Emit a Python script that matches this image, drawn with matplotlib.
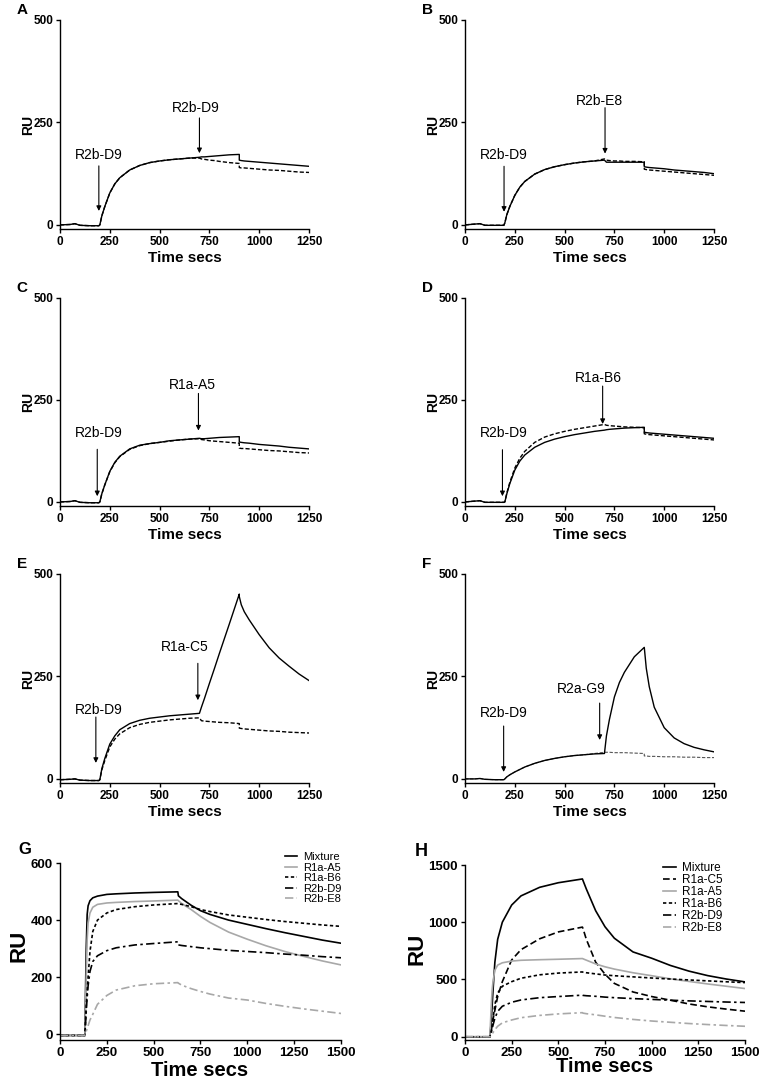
import matplotlib
matplotlib.use('Agg')
import matplotlib.pyplot as plt

plt.rcParams['font.family'] = ['Liberation Sans', 'DejaVu Sans']

W, H = 762, 1083

# time grid (s) shared by panels A-F (900 twice = buffer step)
t_af = [0, 50, 75, 100, 150, 195, 200, 210, 225, 250, 275, 300, 350, 400, 450, 500, 550, 600, 650,
        700, 710, 725, 750, 775, 800, 850, 900, 900, 910, 925, 950, 1000, 1050, 1100, 1150, 1200, 1250]

a_solid = [0, 1, 3, -1, -2, -2, 0, 22, 45, 78, 100, 115, 134, 145, 152, 156, 159, 161, 163,
           165, 166, 166, 167, 168, 169, 171, 172, 158, 157, 156, 155, 153, 151, 149, 147, 145, 143]
a_dash = [0, 1, 3, -1, -2, -2, 0, 22, 45, 78, 100, 115, 134, 145, 152, 156, 159, 161, 163,
          163, 161, 160, 158, 157, 155, 152, 150, 140, 139, 139, 138, 136, 134, 133, 131, 129, 128]

b_solid = [0, 2, 3, -1, -1, -1, 5, 25, 45, 72, 92, 106, 124, 135, 142, 147, 151, 154, 156,
           158, 153, 153, 153, 153, 153, 153, 153, 142, 141, 140, 139, 137, 134, 132, 130, 128, 125]
b_dash = [0, 2, 3, -1, -1, -1, 5, 25, 45, 72, 92, 106, 124, 135, 142, 147, 151, 154, 156,
          161, 158, 157, 156, 156, 155, 155, 154, 136, 135, 134, 133, 131, 129, 127, 125, 123, 121]

c_solid = [0, 1, 3, -1, -2, -2, 0, 20, 42, 75, 97, 112, 130, 139, 143, 146, 150, 152, 154,
           156, 155, 155, 156, 157, 158, 159, 160, 147, 146, 145, 144, 141, 139, 137, 134, 132, 130]
c_dash = [0, 1, 3, -1, -2, -2, 0, 20, 42, 74, 96, 111, 129, 138, 143, 146, 149, 152, 154,
          155, 153, 152, 150, 149, 148, 146, 144, 132, 131, 131, 130, 128, 126, 125, 123, 121, 120]

d_solid = [0, 2, 3, -1, -1, -1, 0, 20, 45, 78, 100, 115, 134, 146, 154, 160, 165, 169, 173,
           176, 177, 178, 179, 180, 181, 182, 183, 171, 170, 169, 168, 166, 164, 162, 160, 158, 156]
d_dash = [0, 2, 3, -1, -1, -1, 0, 22, 48, 83, 107, 124, 146, 159, 167, 173, 178, 182, 186,
          190, 188, 187, 186, 185, 184, 183, 182, 167, 166, 165, 164, 162, 160, 158, 156, 154, 152]

e_solid = [-2, -1, 0, -3, -4, -4, -2, 25, 50, 85, 105, 120, 135, 143, 148, 151, 154, 156, 158,
           160, 175, 196, 233, 269, 306, 378, 451, 445, 425, 408, 388, 352, 320, 295, 275, 256, 240]
e_dash = [-2, -1, 0, -3, -4, -4, -2, 22, 45, 78, 97, 110, 125, 133, 138, 141, 144, 146, 148,
          149, 142, 141, 140, 139, 138, 137, 135, 124, 123, 122, 121, 119, 117, 116, 114, 113, 112]

f_solid = [0, 0, 1, -1, -2, -2, 0, 5, 10, 17, 23, 29, 38, 45, 50, 54, 57, 59, 61,
           62, 105, 145, 200, 235, 260, 298, 321, 321, 270, 225, 175, 125, 100, 86, 77, 71, 66]
f_dash = [0, 0, 1, -1, -2, -2, 0, 5, 10, 17, 23, 29, 38, 45, 50, 54, 57, 59, 62,
          65, 65, 65, 64, 64, 64, 63, 62, 56, 56, 55, 55, 54, 54, 53, 53, 52, 52]

# (label, text x, text y, arrow x, arrow top, arrow tip)
notes_a = [('R2b-D9', 196, 171, 195, 144, 34), ('R2b-D9', 679, 285, 700, 261, 175)]
notes_b = [('R2b-D9', 196, 170, 196, 143, 32), ('R2b-E8', 673, 303, 703, 286, 174)]
notes_c = [('R2b-D9', 196, 169, 187, 129, 14), ('R1a-A5', 663, 287, 695, 266, 175)]
notes_d = [('R2b-D9', 196, 169, 188, 128, 14), ('R1a-B6', 669, 303, 691, 284, 191)]
notes_e = [('R2b-D9', 196, 169, 180, 151, 39), ('R1a-C5', 627, 323, 692, 282, 192)]
notes_f = [('R2b-D9', 196, 160, 194, 129, 17), ('R2a-G9', 584, 219, 676, 185, 95)]

# panels G / H
t_gh = [0, 50, 100, 133, 135, 140, 145, 150, 160, 175, 200, 250, 300, 400, 500, 629, 632, 650,
        700, 750, 800, 900, 1000, 1100, 1200, 1300, 1400, 1500]

g_names = ['Mixture', 'R1a-A5', 'R1a-B6', 'R2b-D9', 'R2b-E8']
g_mix = [-4, -4, -4, -4, 100, 300, 420, 450, 468, 478, 484, 490, 492, 495, 497, 499, 485, 475,
         452, 433, 420, 400, 385, 370, 356, 343, 330, 319]
g_a5 = [-4, -4, -4, -4, 60, 200, 330, 390, 425, 445, 455, 460, 462, 465, 467, 470, 468, 458,
        437, 413, 392, 358, 333, 310, 290, 273, 257, 243]
g_b6 = [-4, -4, -4, -4, 30, 100, 150, 200, 290, 360, 400, 425, 437, 447, 453, 458, 457, 455,
        447, 437, 430, 418, 410, 402, 395, 389, 383, 378]
g_d9 = [-4, -4, -4, -4, 20, 80, 130, 170, 220, 255, 275, 293, 303, 313, 318, 324, 313, 311,
        307, 303, 300, 294, 290, 286, 281, 277, 272, 268]
g_e8 = [-4, -4, -4, -4, 0, 10, 20, 30, 50, 70, 105, 136, 155, 170, 177, 181, 179, 172,
        160, 150, 141, 127, 120, 108, 98, 89, 81, 73]

h_names = ['Mixture', 'R1a-C5', 'R1a-A5', 'R1a-B6', 'R2b-D9', 'R2b-E8']
h_mix = [-2, -2, -2, -2, 30, 120, 260, 400, 650, 850, 1000, 1150, 1230, 1305, 1345, 1378, 1365, 1290,
         1100, 960, 860, 740, 685, 622, 572, 533, 503, 478]
h_c5 = [-2, -2, -2, -2, 20, 50, 90, 150, 230, 350, 480, 670, 760, 855, 915, 957, 945, 850,
        650, 545, 465, 390, 350, 318, 285, 260, 240, 222]
h_a5 = [-2, -2, -2, -2, 60, 250, 400, 480, 580, 625, 645, 660, 667, 672, 676, 682, 680, 668,
        635, 610, 590, 558, 532, 505, 482, 460, 440, 420]
h_b6 = [-2, -2, -2, -2, 10, 40, 90, 150, 280, 380, 440, 480, 510, 540, 555, 565, 563, 558,
        548, 538, 532, 522, 512, 503, 495, 487, 479, 472]
h_d9 = [-2, -2, -2, -2, 5, 30, 65, 100, 160, 220, 265, 300, 320, 340, 350, 362, 360, 357,
        352, 345, 340, 332, 325, 318, 312, 307, 302, 298]
h_e8 = [-2, -2, -2, -2, 0, 10, 22, 35, 60, 90, 120, 145, 165, 185, 198, 209, 205, 200,
        190, 178, 167, 150, 136, 125, 114, 105, 97, 90]

GRAY = '#a8a8a8'


def px_axes(fig, l, t, r, b):
    return fig.add_axes([l / W, 1 - b / H, (r - l) / W, (b - t) / H])


def style_axes(ax, size):
    for s in ['top', 'right']:
        ax.spines[s].set_visible(False)
    for s in ['left', 'bottom']:
        ax.spines[s].set_linewidth(1.0)
    ax.tick_params(direction='out', length=3, width=1, labelsize=size, pad=2)
    for lab in ax.get_xticklabels() + ax.get_yticklabels():
        lab.set_fontweight('bold')


fig = plt.figure(figsize=(W / 100, H / 100), dpi=100)

small = [
    ('A', (60, 20, 309, 229), a_solid, a_dash, notes_a),
    ('B', (465, 20, 714, 229), b_solid, b_dash, notes_b),
    ('C', (60, 298, 309, 506), c_solid, c_dash, notes_c),
    ('D', (465, 298, 714, 506), d_solid, d_dash, notes_d),
    ('E', (60, 574, 309, 783), e_solid, e_dash, notes_e),
    ('F', (465, 574, 714, 783), f_solid, f_dash, notes_f),
]

for letter, (l, t, r, b), solid, dash, notes in small:
    ax = px_axes(fig, l, t, r, b)
    if letter == 'F':
        ax.plot(t_af, dash, color='#555555', lw=0.8, ls=(0, (3, 1.5)))
    else:
        ax.plot(t_af, dash, color='black', lw=1.0, ls=(0, (3, 1.5)))
    ax.plot(t_af, solid, color='black', lw=1.0)
    ax.set_xlim(0, 1250)
    ax.set_ylim(-10, 500)
    ax.set_xticks([0, 250, 500, 750, 1000, 1250])
    ax.set_yticks([0, 250, 500])
    style_axes(ax, 8.5)
    for lab, tx, ty, ax_x, top, tip in notes:
        ax.text(tx, ty, lab, ha='center', va='center', fontsize=10)
        ax.annotate('', xy=(ax_x, tip), xytext=(ax_x, top),
                    arrowprops=dict(arrowstyle='-|>', color='black', lw=0.8,
                                    mutation_scale=7, shrinkA=0, shrinkB=0))
    fig.text((l - 38) / W, 1 - (t - 10) / H, letter, fontsize=11, fontweight='bold',
             ha='center', va='center')
    fig.text((l - 32) / W, 1 - (t + b) / 2 / H, 'RU', fontsize=10, fontweight='bold',
             rotation=90, ha='center', va='center')
    fig.text((l + r) / 2 / W, 1 - (b + 29) / H, 'Time secs', fontsize=11,
             fontweight='bold', ha='center', va='center')

# panel G
axg = px_axes(fig, 60, 863, 341, 1040)
g_styles = [('black', '-'), (GRAY, '-'), ('black', (0, (2, 1.5))),
            ('black', (0, (5, 2, 1.5, 2))), (GRAY, (0, (5, 2, 1.5, 2)))]
for name, vals, (c, ls) in zip(g_names, [g_mix, g_a5, g_b6, g_d9, g_e8], g_styles):
    axg.plot(t_gh, vals, color=c, ls=ls, lw=1.2, label=name)
axg.set_xlim(0, 1500)
axg.set_ylim(-20, 600)
axg.set_xticks([0, 250, 500, 750, 1000, 1250, 1500])
axg.set_yticks([0, 200, 400, 600])
style_axes(axg, 9.5)
axg.legend(loc='upper right', bbox_to_anchor=(341 / W, 1 - 852 / H), bbox_transform=fig.transFigure,
           frameon=False, fontsize=8, handlelength=1.1, handletextpad=0.5, labelspacing=0.05,
           borderaxespad=0, borderpad=0)
fig.text(25 / W, 1 - 849 / H, 'G', fontsize=12, fontweight='bold', ha='center', va='center')
fig.text(19 / W, 1 - 946 / H, 'RU', fontsize=16, fontweight='bold', rotation=90,
         ha='center', va='center')
fig.text(200 / W, 1 - 1070 / H, 'Time secs', fontsize=14.5, fontweight='bold',
         ha='center', va='center')

# panel H
axh = px_axes(fig, 465, 865, 745, 1040)
h_styles = [('black', '-'), ('black', (0, (4, 2))), (GRAY, '-'), ('black', (0, (2, 1.5))),
            ('black', (0, (5, 2, 1.5, 2))), (GRAY, (0, (5, 2, 1.5, 2)))]
for name, vals, (c, ls) in zip(h_names, [h_mix, h_c5, h_a5, h_b6, h_d9, h_e8], h_styles):
    axh.plot(t_gh, vals, color=c, ls=ls, lw=1.2, label=name)
axh.set_xlim(0, 1500)
axh.set_ylim(-30, 1500)
axh.set_xticks([0, 250, 500, 750, 1000, 1250, 1500])
axh.set_yticks([0, 500, 1000, 1500])
style_axes(axh, 9.5)
axh.legend(loc='upper right', bbox_to_anchor=(723 / W, 1 - 862 / H), bbox_transform=fig.transFigure,
           frameon=False, fontsize=8.5, handlelength=1.1, handletextpad=0.5, labelspacing=0.0,
           borderaxespad=0, borderpad=0)
fig.text(421 / W, 1 - 852 / H, 'H', fontsize=13, fontweight='bold', ha='center', va='center')
fig.text(417 / W, 1 - 949 / H, 'RU', fontsize=16, fontweight='bold', rotation=90,
         ha='center', va='center')
fig.text(605 / W, 1 - 1067 / H, 'Time secs', fontsize=14.5, fontweight='bold',
         ha='center', va='center')

fig.savefig('out.png', dpi=100)
